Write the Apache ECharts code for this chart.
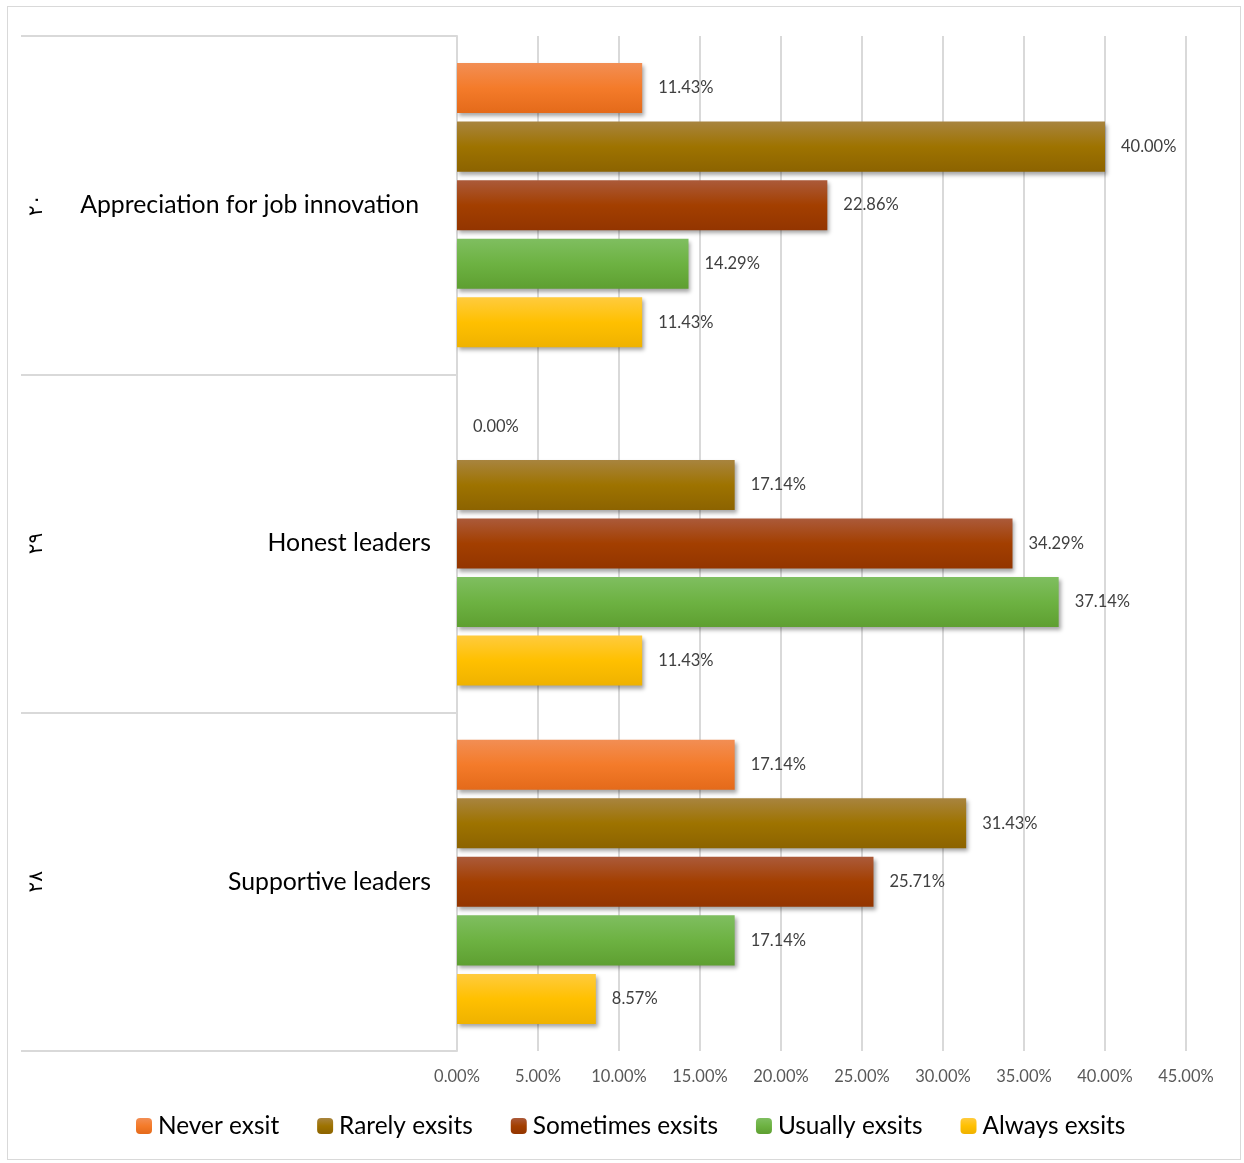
<!DOCTYPE html>
<html>
<head>
<meta charset="utf-8">
<script src="https://cdn.jsdelivr.net/npm/echarts@6/dist/echarts.min.js"></script>
<style>
html,body{margin:0;padding:0;background:#fff;}
#wrap{position:relative;width:1244px;height:1163px;}
#frame{position:absolute;left:7px;top:6px;width:1234px;height:1154px;border:1px solid #d9d9d9;box-sizing:border-box;}
#chart{position:absolute;left:0;top:0;width:1244px;height:1163px;}
</style>
</head>
<body>
<div id="wrap"><div id="frame"></div><div id="chart"></div></div>
<script>
const categories = ["Appreciation for job innovation", "Honest leaders", "Supportive leaders"];
const itemNumbers = ["٢٠", "٢٩", "٢٨"];
const seriesNames = ["Never exsit", "Rarely exsits", "Sometimes exsits", "Usually exsits", "Always exsits"];
const neverVals = [11.43, 0.00, 17.14];
const rarelyVals = [40.00, 17.14, 31.43];
const sometimesVals = [22.86, 34.29, 25.71];
const usuallyVals = [14.29, 37.14, 17.14];
const alwaysVals = [11.43, 11.43, 8.57];
const xTicks = {min: 0, max: 45, interval: 5};

const palette = [
  ["#f28e54", "#f47b2a", "#e46a1a"],
  ["#a8843f", "#9e7300", "#8c6300"],
  ["#ab5a3a", "#a33f00", "#933500"],
  ["#7fbe60", "#6db242", "#5e9f31"],
  ["#ffcb3e", "#ffc000", "#efb200"]
];
const allVals = [neverVals, rarelyVals, sometimesVals, usuallyVals, alwaysVals];

const chart = echarts.init(document.getElementById('chart'), null, {renderer: 'canvas'});
const series = seriesNames.map((name, i) => ({
  name: name,
  type: 'bar',
  yAxisIndex: 0,
  data: allVals[i],
  barGap: '17%',
  barCategoryGap: '16%',
  itemStyle: {
    color: new echarts.graphic.LinearGradient(0, 0, 0, 1, [
      {offset: 0, color: palette[i][0]},
      {offset: 0.5, color: palette[i][1]},
      {offset: 1, color: palette[i][2]}
    ]),
    shadowColor: 'rgba(0,0,0,0.35)',
    shadowBlur: 4,
    shadowOffsetX: 2,
    shadowOffsetY: 3
  },
  label: {
    show: true,
    position: 'right',
    distance: 16,
    color: '#404040',
    fontSize: 16.5,
    fontFamily: 'Lato',
    formatter: p => p.value.toFixed(2) + '%'
  }
}));

chart.setOption({
  animation: false,
  grid: {left: 457, right: 58, top: 36, bottom: 112, containLabel: false},
  legend: {
    bottom: 20,
    left: 131,
    itemWidth: 16,
    itemHeight: 16,
    itemGap: 38,
    textStyle: {fontSize: 24.4, color: '#000', fontFamily: 'Lato', padding: [0, 0, 0, 1]},
    data: seriesNames
  },
  xAxis: {
    type: 'value',
    min: xTicks.min, max: xTicks.max, interval: xTicks.interval,
    axisLine: {show: false},
    axisTick: {show: false},
    splitLine: {show: true, lineStyle: {color: '#d9d9d9', width: 2}},
    axisLabel: {
      color: '#595959', fontSize: 16.5, fontFamily: 'Lato', margin: 17,
      formatter: v => v.toFixed(2) + '%'
    }
  },
  yAxis: [{
    type: 'category',
    inverse: true,
    data: categories,
    axisLine: {show: true, lineStyle: {color: '#d9d9d9', width: 2}},
    axisTick: {show: true, length: 436, lineStyle: {color: '#d9d9d9', width: 2}},
    axisLabel: {
      color: '#000', fontSize: 24.8, fontFamily: 'Lato', margin: 26,
      formatter: (v, i) => i === 0 ? '{p|' + v + '}' : v,
      rich: {p: {fontSize: 24.8, color: '#000', fontFamily: 'Lato', padding: [0, 12, 0, 0]}}
    }
  }, {
    type: 'category',
    inverse: true,
    position: 'left',
    data: itemNumbers,
    axisLine: {show: false},
    axisTick: {show: false},
    axisLabel: {
      color: '#000', fontSize: 20, fontFamily: 'DejaVu Sans', margin: 410, rotate: 90
    }
  }],
  series: series
});
</script>
</body>
</html>
